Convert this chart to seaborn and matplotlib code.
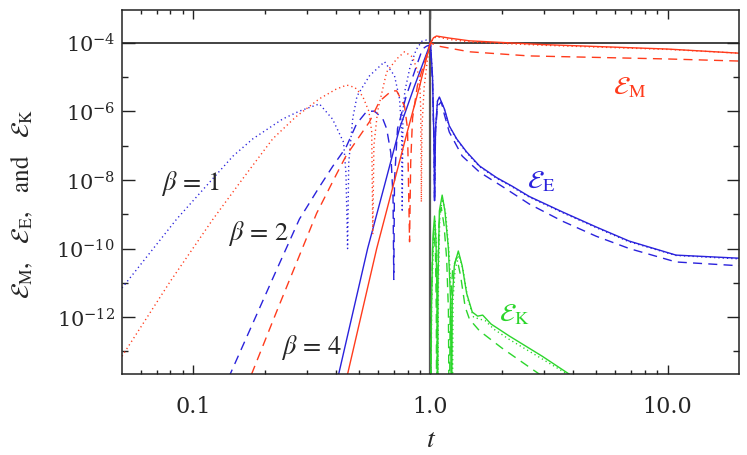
import numpy as np
import matplotlib
matplotlib.use("Agg")
import matplotlib.pyplot as plt
import seaborn as sns

# ---------------- data (t, and log10 of energy) ----------------
# E_E (blue), beta = 1 (dotted)
t_E1 = [0.05, 0.085, 0.147, 0.178, 0.238, 0.28, 0.34, 0.386, 0.43, 0.44, 0.447, 0.452,
        0.47, 0.49, 0.553, 0.64, 0.705, 0.74, 0.755, 0.76, 0.765, 0.78, 0.82, 0.87,
        0.92, 0.96, 1.0, 1.02, 1.035, 1.04, 1.05, 1.07, 1.09, 1.145, 1.20, 1.29,
        1.42, 1.61, 1.90, 2.21, 2.61, 3.6, 5.0, 6.88, 10.85, 20.0]
lE_E1 = [-11.15, -9.14, -7.3, -6.8, -6.22, -5.99, -5.78, -6.22, -6.9, -7.8, -10.0, -7.5,
         -6.2, -5.55, -4.96, -4.55, -4.96, -5.63, -6.5, -8.93, -6.0, -5.4, -4.7, -4.2,
         -3.95, -3.92, -4.0, -5.0, -7.0, -8.6, -6.5, -5.7, -5.6, -5.95, -6.44, -6.82,
         -7.2, -7.61, -7.95, -8.2, -8.5, -8.95, -9.39, -9.8, -10.2, -10.3]

# E_E (blue), beta = 2 (dashed)
t_E2 = [0.135, 0.143, 0.224, 0.28, 0.34, 0.387, 0.44, 0.488, 0.538, 0.58, 0.628, 0.653,
        0.68, 0.695, 0.70, 0.705, 0.726, 0.79, 0.873, 0.925, 0.96, 1.0, 1.02, 1.035,
        1.04, 1.05, 1.07, 1.11, 1.145, 1.20, 1.36, 1.61, 2.0, 2.61, 3.6, 5.0,
        6.9, 10.85, 20.0]
lE_E2 = [-14.2, -13.66, -10.63, -9.14, -8.2, -7.6, -7.05, -6.36, -6.0, -5.99, -6.2, -6.5,
         -7.2, -8.5, -10.9, -8.0, -6.5, -5.55, -4.67, -4.18, -4.1, -4.05, -5.2, -7.0,
         -8.6, -6.6, -5.85, -5.72, -6.1, -6.6, -7.3, -7.77, -8.18, -8.7, -9.2, -9.64,
         -10.0, -10.39, -10.5]

# E_E (blue), beta = 4 (solid)
t_E4 = [0.40, 0.41, 0.543, 0.64, 0.74, 0.856, 0.962, 1.0, 1.02, 1.035, 1.04, 1.05,
        1.07, 1.09, 1.145, 1.20, 1.29, 1.42, 1.61, 1.90, 2.21, 2.61, 3.6, 5.0,
        6.88, 10.85, 20.0]
lE_E4 = [-14.0, -13.66, -10.0, -8.15, -6.5, -5.26, -4.32, -4.0, -5.0, -7.0, -8.6, -6.5,
         -5.7, -5.58, -5.93, -6.42, -6.80, -7.18, -7.59, -7.93, -8.18, -8.48, -8.93, -9.37,
         -9.78, -10.19, -10.28]

# E_M (red), beta = 1 (dotted)
t_M1 = [0.05, 0.08, 0.121, 0.16, 0.216, 0.27, 0.34, 0.40, 0.443, 0.48, 0.517, 0.55,
        0.565, 0.571, 0.577, 0.598, 0.653, 0.72, 0.777, 0.84, 0.88, 0.90, 0.91, 0.915,
        0.92, 0.94, 0.97, 1.0, 1.03, 1.06, 1.2, 1.46, 3.0, 10.0, 20.0]
lE_M1 = [-13.14, -10.95, -9.14, -8.0, -6.8, -6.16, -5.63, -5.35, -5.23, -5.3, -5.55, -6.0,
         -6.6, -9.58, -7.0, -6.0, -4.85, -4.47, -4.26, -4.41, -4.8, -5.05, -6.0, -8.64,
         -6.5, -5.3, -4.5, -4.0, -3.87, -3.82, -3.9, -3.97, -4.07, -4.19, -4.3]

# E_M (red), beta = 2 (dashed)
t_M2 = [0.17, 0.176, 0.224, 0.331, 0.40, 0.44, 0.553, 0.61, 0.685, 0.72, 0.777, 0.80,
        0.816, 0.825, 0.84, 0.88, 0.94, 1.0, 1.07, 1.46, 2.6, 10.1, 20.0]
lE_M2 = [-14.1, -13.66, -11.85, -8.97, -7.85, -7.3, -6.3, -5.7, -5.4, -5.4, -5.84, -6.5,
         -9.8, -7.5, -6.2, -5.26, -4.6, -4.0, -4.09, -4.26, -4.38, -4.47, -4.53]

# E_M (red), beta = 4 (solid)
t_M4 = [0.44, 0.447, 0.593, 0.70, 0.80, 0.90, 0.96, 1.0, 1.03, 1.06, 1.2, 1.46, 3.0, 10.0, 20.0]
lE_M4 = [-14.0, -13.66, -10.0, -8.1, -6.57, -5.26, -4.47, -4.0, -3.85, -3.8, -3.86, -3.94,
         -4.05, -4.18, -4.3]

# E_K (green), beta = 1 (dotted)
t_K1 = [1.0, 1.012, 1.03, 1.045, 1.06, 1.07, 1.075, 1.08, 1.095, 1.125, 1.16, 1.2,
        1.225, 1.235, 1.245, 1.27, 1.32, 1.37, 1.44, 1.52, 1.6, 1.7, 1.85, 2.15,
        2.96, 3.9, 4.5]
lE_K1 = [-16.0, -11.5, -9.7, -9.2, -9.9, -11.5, -16.0, -11.0, -9.0, -8.55, -9.0, -10.2,
         -11.5, -16.0, -11.5, -10.6, -10.2, -10.6, -11.5, -12.0, -12.05, -12.1, -12.35, -12.65,
         -13.22, -13.72, -14.0]

# E_K (green), beta = 2 (dashed)
t_K2 = [1.0, 1.008, 1.02, 1.035, 1.05, 1.058, 1.062, 1.068, 1.085, 1.11, 1.14, 1.17,
        1.19, 1.2, 1.21, 1.24, 1.29, 1.34, 1.40, 1.46, 1.61, 2.0, 2.93, 3.3]
lE_K2 = [-16.0, -11.8, -10.0, -9.5, -10.2, -11.8, -16.0, -11.5, -9.3, -8.8, -9.3, -10.3,
         -11.8, -16.0, -11.8, -10.6, -10.25, -10.8, -11.7, -12.06, -12.4, -12.9, -13.7, -14.0]

# E_K (green), beta = 4 (solid)
t_K4 = [1.0, 1.01, 1.025, 1.04, 1.055, 1.065, 1.07, 1.075, 1.09, 1.12, 1.15, 1.19,
        1.215, 1.226, 1.235, 1.26, 1.31, 1.36, 1.42, 1.50, 1.58, 1.66, 1.8, 2.15,
        2.96, 3.92, 4.5]
lE_K4 = [-16.0, -11.5, -9.6, -9.05, -9.8, -11.5, -16.0, -11.0, -8.9, -8.44, -8.9, -10.0,
         -11.5, -16.0, -11.5, -10.5, -10.07, -10.5, -11.3, -11.85, -11.97, -11.94, -12.2, -12.55,
         -13.14, -13.7, -14.0]

y_major = [1e-12, 1e-10, 1e-8, 1e-6, 1e-4]
y_major_labels = [r"$10^{-12}$", r"$10^{-10}$", r"$10^{-8}$", r"$10^{-6}$", r"$10^{-4}$"]
y_minor = [1e-13, 1e-11, 1e-9, 1e-7, 1e-5]
x_major = [0.1, 1.0, 10.0]
x_major_labels = ["0.1", "1.0", "10.0"]

# ---------------- style ----------------
sns.set_style("ticks")
plt.rcParams["font.family"] = ["STIXGeneral", "DejaVu Serif"]
plt.rcParams["mathtext.fontset"] = "stix"

BLUE = "#2a22dc"
RED = "#ff3b1c"
GREEN = "#2cd62c"
DOT = (0, (0.9, 2.2))
DASH = (0, (6.5, 4.5))
SOLID = "-"

fig = plt.figure(figsize=(7.47, 4.56), dpi=100)
ax = fig.add_axes([122 / 747, 1 - 375 / 456, 617 / 747, 364 / 456])
ax.set_xscale("log")
ax.set_yscale("log")

series = [
    (t_E1, lE_E1, BLUE, DOT), (t_E2, lE_E2, BLUE, DASH), (t_E4, lE_E4, BLUE, SOLID),
    (t_M1, lE_M1, RED, DOT), (t_M2, lE_M2, RED, DASH), (t_M4, lE_M4, RED, SOLID),
    (t_K1, lE_K1, GREEN, DOT), (t_K2, lE_K2, GREEN, DASH), (t_K4, lE_K4, GREEN, SOLID),
]
for t, le, c, ls in series:
    sns.lineplot(x=np.asarray(t), y=np.power(10.0, np.asarray(le)), ax=ax, color=c,
                 linestyle=ls, lw=1.0, sort=False, estimator=None)

ax.axhline(1e-4, color="#222222", lw=1.2, zorder=1)
ax.axvline(1.0, color="#555555", lw=1.6, zorder=1)

ax.set_xlim(0.05, 20)
ax.set_ylim(2.2e-14, 9.1e-4)

ax.set_yticks(y_major)
ax.set_yticks(y_minor, minor=True)
ax.set_yticklabels(y_major_labels, fontsize=15, math_fontfamily="dejavuserif")
ax.set_xticks(x_major)
ax.set_xticks([v * m for v in (0.01, 0.1, 1.0, 10.0) for m in range(2, 10)
               if 0.05 < v * m < 20], minor=True)
ax.set_xticklabels(x_major_labels, fontsize=16, family="DejaVu Serif")
ax.yaxis.set_minor_formatter(matplotlib.ticker.NullFormatter())
ax.xaxis.set_minor_formatter(matplotlib.ticker.NullFormatter())

ax.tick_params(axis="both", which="both", direction="in", top=True, right=True, color="#222222")
ax.tick_params(axis="y", which="major", length=9, width=1.0, pad=5)
ax.tick_params(axis="y", which="minor", length=4.5, width=1.0)
ax.tick_params(axis="x", which="major", length=6.5, width=1.0, pad=15)
ax.tick_params(axis="x", which="minor", length=3, width=1.0)
for s in ax.spines.values():
    s.set_linewidth(1.1)
    s.set_color("#222222")

ax.set_xlabel(r"$t$", fontsize=20)
ax.xaxis.set_label_coords(0.5008, -0.146)
ax.xaxis.label.set_va("top")
ax.set_ylabel(r"$\mathcal{E}_{\rm M}$,   $\mathcal{E}_{\rm E}$,   and   $\mathcal{E}_{\rm K}$",
              fontsize=18)
ax.yaxis.set_label_coords(-0.14, 0.47)

# curve annotations
ax.text(0.0967, 8.7e-9, r"$\beta\,{=}\,1$", fontsize=19, ha="center", va="center")
ax.text(0.189, 3.0e-10, r"$\beta\,{=}\,2$", fontsize=19, ha="center", va="center")
ax.text(0.315, 1.4e-13, r"$\beta\,{=}\,4$", fontsize=19, ha="center", va="center")
ax.text(6.9, 5.2e-6, r"$\mathcal{E}_{\rm M}$", fontsize=19, color=RED, ha="center", va="center")
ax.text(2.93, 9.3e-9, r"$\mathcal{E}_{\rm E}$", fontsize=19, color=BLUE, ha="center", va="center")
ax.text(2.26, 1.2e-12, r"$\mathcal{E}_{\rm K}$", fontsize=19, color=GREEN, ha="center", va="center")

fig.savefig("out.png", dpi=100)
